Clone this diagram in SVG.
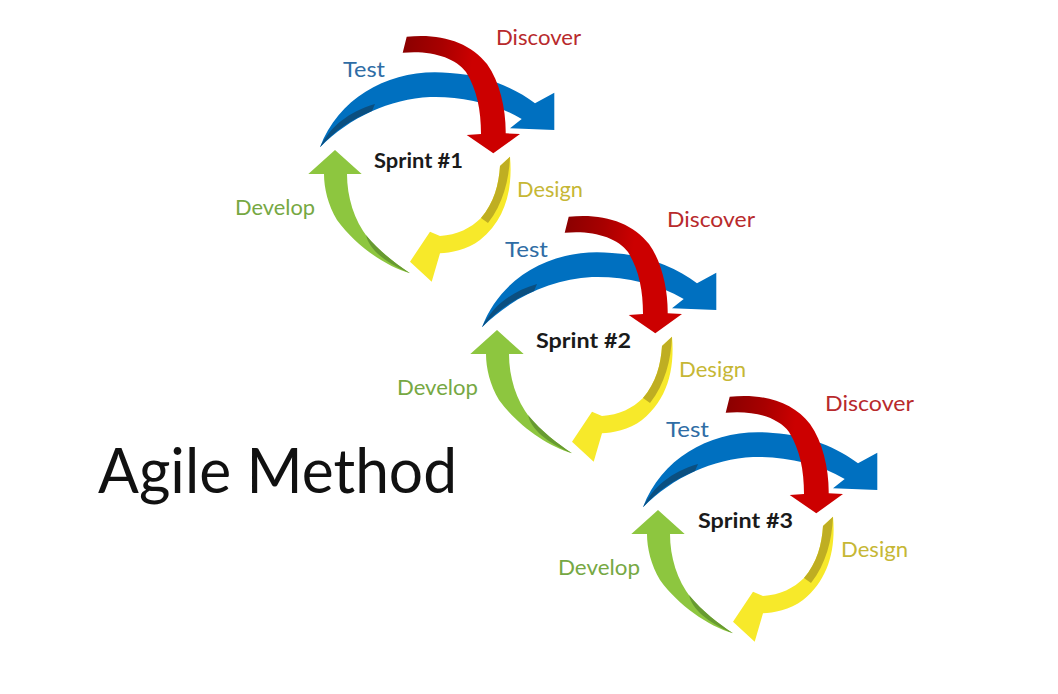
<svg xmlns="http://www.w3.org/2000/svg" xmlns:xlink="http://www.w3.org/1999/xlink" width="1058" height="694" viewBox="0 0 1058 694">
<style>
.lbl{font-family:Lato,"Open Sans","DejaVu Sans",sans-serif;font-size:21px}
.disc{fill:#b82a2c}
.test{fill:#2f6da5}
.des{fill:#c6b735}
.dev{fill:#76a843}
.spr{font-family:Lato,"Open Sans","DejaVu Sans",sans-serif;font-size:20px;font-weight:bold;fill:#1a1a1a}
.title{font-family:Lato,"Open Sans","DejaVu Sans",sans-serif;font-size:62px;fill:#111}
</style>
<defs>
<linearGradient id="redTail" gradientUnits="userSpaceOnUse" x1="403" y1="40" x2="474" y2="50">
<stop offset="0" stop-color="#8a0000"/>
<stop offset="0.55" stop-color="#a80000"/>
<stop offset="1" stop-color="#cc0000"/>
</linearGradient>
<g id="cycle">
<path fill="#0070c0" d="M320,147.3 C340,94 395,67 450,73 C485,75 515,88 535,103.3 L554.3,92.7 L554.3,130 L510,128.3 L521.7,119 C495,103 460,96 430,97 C390,99 350,117 320,147.3 Z"/>
<path fill="#0b4f80" d="M320,147.3 C330,127 348,112 375,104 L372,111 C352,119 334,131 320,147.3 Z"/>
<path fill="url(#redTail)" d="M406.7,36.7 C440,33 470,42 487,64 C500,82 506,110 505.7,133.3 L520,134 L493.3,153.3 L466.7,135 L481,134 C481,110 477,90 466,72 C455,57 430,50 402.7,52.7 Z"/>
<path fill="#f7e92a" d="M510,156.7 C513,190 505,220 480,240 C467,250 450,253 440,253.3 L431.7,281.7 L410,261.7 L430,231.7 L440,236 C457,235 471,228 481,218 C494,203 499,184 500,166 Z"/>
<path fill="#bfae22" d="M510,156.7 C509,180 503,204 488,223 L481,218 C494,203 499,184 500,166 Z"/>
<path fill="#8dc63f" d="M410,273.3 C385,266 355,245 337,220 C328,205 324,188 324,174 L308.3,174 L335,150 L361.7,174 L347,174 C347,197 354,220 368,238 C380,252 395,263 410,273.3 Z"/>
<path fill="#679a31" d="M410,273.3 C395,263 380,252 366,235 C369,249 384,262 410,273.3 Z"/>
</g>
</defs>
<g id="connectors">
<use xlink:href="#cycle" href="#cycle"/>
<use xlink:href="#cycle" href="#cycle" transform="translate(162,180)"/>
<use xlink:href="#cycle" href="#cycle" transform="translate(323,360)"/>
</g>
<g id="sprint1">
<text class="lbl disc" x="496" y="45" textLength="85" lengthAdjust="spacingAndGlyphs">Discover</text>
<text class="lbl test" x="343" y="77" textLength="42" lengthAdjust="spacingAndGlyphs">Test</text>
<text class="lbl des" x="517" y="197" textLength="66" lengthAdjust="spacingAndGlyphs">Design</text>
<text class="lbl dev" x="235" y="215" textLength="80" lengthAdjust="spacingAndGlyphs">Develop</text>
<text class="spr" x="374" y="168" textLength="89" lengthAdjust="spacingAndGlyphs">Sprint #1</text>
</g>
<g id="sprint2">
<text class="lbl disc" x="667" y="227" textLength="88" lengthAdjust="spacingAndGlyphs">Discover</text>
<text class="lbl test" x="505" y="257" textLength="43" lengthAdjust="spacingAndGlyphs">Test</text>
<text class="lbl des" x="679" y="377" textLength="67" lengthAdjust="spacingAndGlyphs">Design</text>
<text class="lbl dev" x="397" y="395" textLength="81" lengthAdjust="spacingAndGlyphs">Develop</text>
<text class="spr" x="536" y="348" textLength="95" lengthAdjust="spacingAndGlyphs">Sprint #2</text>
</g>
<g id="sprint3">
<text class="lbl disc" x="825" y="411" textLength="89" lengthAdjust="spacingAndGlyphs">Discover</text>
<text class="lbl test" x="666" y="437" textLength="43" lengthAdjust="spacingAndGlyphs">Test</text>
<text class="lbl des" x="841" y="557" textLength="67" lengthAdjust="spacingAndGlyphs">Design</text>
<text class="lbl dev" x="558" y="575" textLength="82" lengthAdjust="spacingAndGlyphs">Develop</text>
<text class="spr" x="698" y="528" textLength="95" lengthAdjust="spacingAndGlyphs">Sprint #3</text>
</g>
<g id="title">
<text class="title" x="98" y="493" textLength="359" lengthAdjust="spacingAndGlyphs">Agile Method</text>
</g>
</svg>
